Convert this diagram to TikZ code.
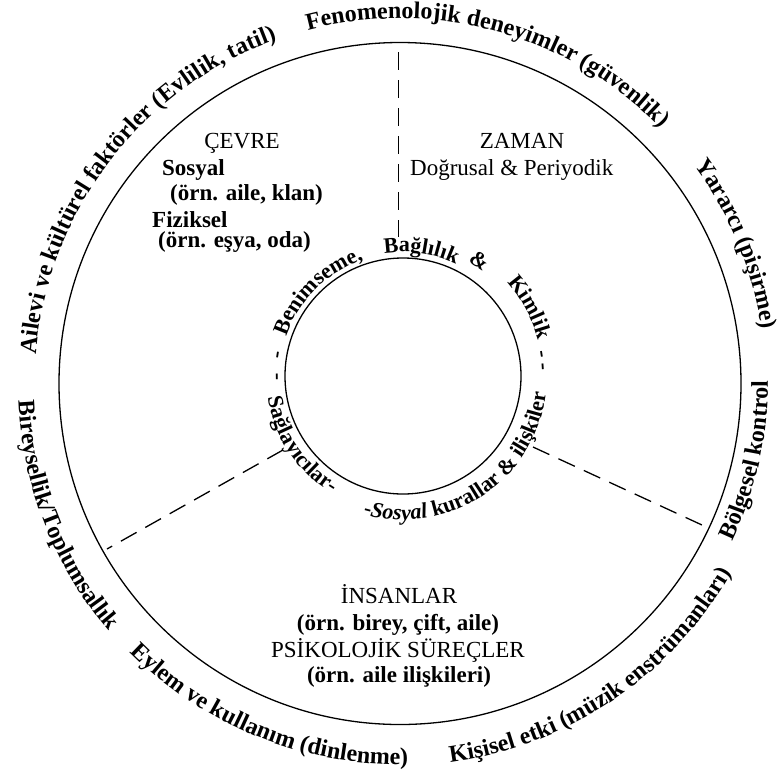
\documentclass[tikz,border=0pt]{standalone}
\usepackage{fontspec}
\setmainfont{Liberation Serif}
\usetikzlibrary{decorations.text}
\tikzset{
  ring/.style={line width=1.3pt},
  divider/.style={line width=1.3pt, dash pattern=on 18pt off 10pt},
  lbl/.style={font=\fontsize{23}{26}\selectfont, inner sep=0pt},
  lblb/.style={inner sep=0pt, font=\fontsize{23}{26}\selectfont\bfseries},
}
% #1 centre, #2 radius, #3 start angle, #4 end angle, #5 font size, #6 text
\newcommand{\ArcText}[6]{%
  \path[decorate, decoration={text along path, text align=center,
    text={|\fontsize{#5}{#5}\selectfont\bfseries|#6}}]
    (#1) ++(#3:#2) arc[start angle=#3, end angle=#4, radius=#2];}
\begin{document}
\begin{tikzpicture}[x=1pt,y=1pt]
\useasboundingbox (0,0) rectangle (782,-780);
\fill[white] (0,0) rectangle (782,-780);
\coordinate (O) at (400,-383.5);
\coordinate (I) at (403,-376);
\draw[ring] (O) circle[radius=341pt];
\draw[ring] (I) circle[radius=118pt];
% dashed dividers
\coordinate (topA) at (398.5,-52);
\coordinate (topB) at (398.5,-237);
\coordinate (llA) at (283,-450);
\coordinate (llB) at (107,-549);
\coordinate (lrA) at (533,-447);
\coordinate (lrB) at (702,-525);
\draw[divider] (topA) -- (topB);
\draw[divider] (llA) -- (llB);
\draw[divider] (lrA) -- (lrB);
% sector labels
\node[lbl, anchor=base] (cevre) at (242,-148) {ÇEVRE};
\node[lblb, anchor=base west] (sosyal) at (162,-175) {Sosyal};
\node[lblb, anchor=base west] (ornA) at (170,-200) {(örn. aile, klan)};
\node[lblb, anchor=base west] (fiz) at (152,-227) {Fiziksel};
\node[lblb, anchor=base west] (ornB) at (158,-247) {(örn. eşya, oda)};
\node[lbl, anchor=base] (zaman) at (522,-148) {ZAMAN};
\node[lbl, anchor=base west] (dogru) at (410,-175) {Doğrusal \& Periyodik};
\node[lbl, anchor=base] (insan) at (399,-603) {İNSANLAR};
\node[lblb, anchor=base] (ornC) at (398,-630) {(örn. birey, çift, aile)};
\node[lbl, anchor=base] (psi) at (398,-657) {PSİKOLOJİK SÜREÇLER};
\node[lblb, anchor=base] (ornD) at (399,-682) {(örn. aile ilişkileri)};
% outer ring texts
\ArcText{O}{365pt}{187.6}{97.6}{24}{Ailevi ve kültürel faktörler (Evlilik, tatil)}
\ArcText{O}{365pt}{119.5}{29.5}{24}{Fenomenolojik deneyimler (güvenlik)}
\ArcText{O}{366pt}{52.5}{-7.5}{24}{Yararcı (pişirme)}
\ArcText{O}{368pt}{-42.5}{17.5}{24}{Bölgesel kontrol}
\ArcText{O}{382pt}{-96.1}{-16.1}{24}{Kişisel etki (müzik enstrümanları)}
\ArcText{O}{381pt}{208}{288}{24}{Eylem ve kullanım (dinlenme)}
\ArcText{O}{382pt}{171.5}{231.5}{24}{Bireysellik/Toplumsallık}
% inner ring texts
\ArcText{I}{121pt}{200.5}{160.5}{22}{-}
\ArcText{I}{122pt}{190.5}{150.5}{22}{-}
\ArcText{I}{123pt}{175}{95}{22}{Benimseme,}
\ArcText{I}{124pt}{121.7}{41.7}{22}{Bağlılık}
\ArcText{I}{131pt}{76.4}{36.4}{22}{{\&}}
\ArcText{I}{140pt}{68.5}{-11.5}{22}{Kimlik}
\ArcText{I}{135pt}{28.9}{-11.1}{22}{-}
\ArcText{I}{135pt}{23.7}{-16.3}{22}{-}
\ArcText{I}{137pt}{174}{254}{22}{Sağlayıcılar-}
\ArcText{I}{144pt}{243.5}{363.5}{22}{-|\fontsize{22}{22}\selectfont\bfseries\itshape|Sosyal |\fontsize{22}{22}\selectfont\bfseries|kurallar {\&} ilişkiler}
\end{tikzpicture}
\end{document}
